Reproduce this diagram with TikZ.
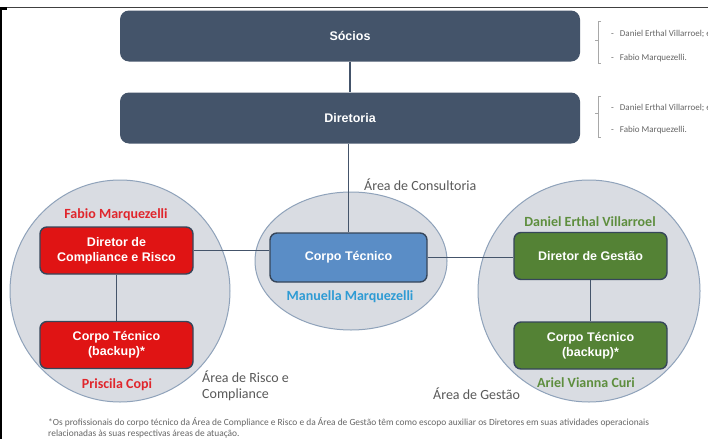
\documentclass[tikz,border=0pt]{standalone}
\usepackage{fontspec}
\setmainfont{Carlito}
\newfontfamily\boxfont{Liberation Sans}
\definecolor{slate}{HTML}{44546A}
\definecolor{redbox}{HTML}{E01414}
\definecolor{bluebox}{HTML}{5A8DC6}
\definecolor{greenbox}{HTML}{548235}
\definecolor{boxedge}{HTML}{36465A}
\definecolor{circfill}{HTML}{D9DCE2}
\definecolor{circline}{HTML}{8FA2BA}
\definecolor{areagray}{HTML}{595959}
\definecolor{namered}{HTML}{E0262C}
\definecolor{nameblue}{HTML}{2E9BD4}
\definecolor{namegreen}{HTML}{5E8E3E}
\definecolor{brgray}{HTML}{A8A8A8}
\definecolor{brtext}{HTML}{666666}
\begin{document}
\begin{tikzpicture}[x=1pt,y=-1pt,
  topbox/.style={fill=slate, rounded corners=9pt, minimum width=460pt, minimum height=51pt, inner sep=0pt,
    text=white, font=\boxfont\bfseries\fontsize{12.5}{14}\selectfont},
  orgbox/.style={fill=#1, draw=boxedge, line width=1.4pt, rounded corners=7pt, minimum width=153pt,
    minimum height=47pt, inner sep=0pt, text=white, align=center,
    font=\boxfont\bfseries\fontsize{12.5}{15}\selectfont},
  area/.style={fill=circfill, draw=circline, line width=1pt},
  conn/.style={draw=slate, line width=1.5pt},
  namelbl/.style={anchor=base, font=\bfseries\fontsize{14}{16}\selectfont, text=#1, inner sep=0pt},
  arealbl/.style={anchor=base west, font=\fontsize{14}{16}\selectfont, text=areagray, inner sep=0pt},
  brlbl/.style={anchor=base west, font=\fontsize{9}{10}\selectfont, text=brtext, inner sep=0pt},
  brline/.style={draw=brgray, line width=0.7pt},
  foot/.style={anchor=base west, font=\fontsize{9.4}{11}\selectfont, text=brtext, inner sep=0pt}]
\useasboundingbox (0,0) rectangle (708,439);
\fill[white] (0,0) rectangle (708,439);
% frame
\draw[draw=black!75, line width=1pt] (0,7.5) -- (708,7.5);
\fill[black] (0,7) rectangle (2.2,439);
\fill[black] (0,7) rectangle (7,9.5);
% circles
\path[area] (120,291) ellipse [x radius=110pt, y radius=111pt];
\path[area] (351,261) ellipse [x radius=96pt, y radius=69pt];
\path[area] (589,291) ellipse [x radius=111pt, y radius=111pt];
% top boxes
\node[topbox] (socios) at (350,36) {Sócios};
\node[topbox] (diretoria) at (350,118) {Diretoria};
% org boxes
\node[orgbox=redbox] (drc) at (116.5,250.5) {Diretor de\\Compliance e Risco};
\node[orgbox=redbox] (ctl) at (116.5,345) {Corpo Técnico\\(backup)*};
\node[orgbox=bluebox, minimum width=157pt, minimum height=49pt] (ct) at (348.5,257.5) {Corpo Técnico};
\node[orgbox=greenbox] (dg) at (590.5,256) {Diretor de Gestão};
\node[orgbox=greenbox] (ctr) at (590.5,345.5) {Corpo Técnico\\(backup)*};
% connectors
\path[conn] (socios) -- (diretoria);
\path[conn] (diretoria.south -| ct.north) -- (ct.north);
\path[conn] (drc.east) -- (drc.east -| ct.west);
\path[conn] (ct.east) -- (ct.east -| dg.west);
\path[conn] (drc) -- (ctl);
\path[conn] (dg) -- (ctr);
% names
\node[namelbl=namered] (n1) at (116,218) {Fabio Marquezelli};
\node[namelbl=namered] (n2) at (117,388) {Priscila Copi};
\node[namelbl=nameblue] (n3) at (350,300) {Manuella Marquezelli};
\node[namelbl=namegreen] (n4) at (590,226) {Daniel Erthal Villarroel};
\node[namelbl=namegreen] (n5) at (586,387) {Ariel Vianna Curi};
% area labels
\node[arealbl] (a1) at (364,190) {Área de Consultoria};
\node[arealbl] (a2) at (202,382) {Área de Risco e};
\node[arealbl] (a3) at (202,398) {Compliance};
\node[arealbl] (a4) at (433,399) {Área de Gestão};
% brackets
\path[brline] (601,21) -- (598,21) -- (598,63) -- (601,63);
\path[brline] (598,40) -- (595,40);
\path[brline] (601,96) -- (598,96) -- (598,137) -- (601,137);
\path[brline] (598,113) -- (595,113);
\node[brlbl] (b1) at (611,36) {-\hspace{6pt}Daniel Erthal Villarroel; e};
\node[brlbl] (b2) at (611,60) {-\hspace{6pt}Fabio Marquezelli.};
\node[brlbl] (b3) at (611,110) {-\hspace{6pt}Daniel Erthal Villarroel; e};
\node[brlbl] (b4) at (611,132) {-\hspace{6pt}Fabio Marquezelli.};
% footer
\node[foot] (f1) at (48,425.5) {*Os profissionais do corpo técnico da Área de Compliance e Risco e da Área de Gestão têm como escopo auxiliar os Diretores em suas atividades operacionais};
\node[foot] (f2) at (48,436) {relacionadas às suas respectivas áreas de atuação.};
\end{tikzpicture}
\end{document}
